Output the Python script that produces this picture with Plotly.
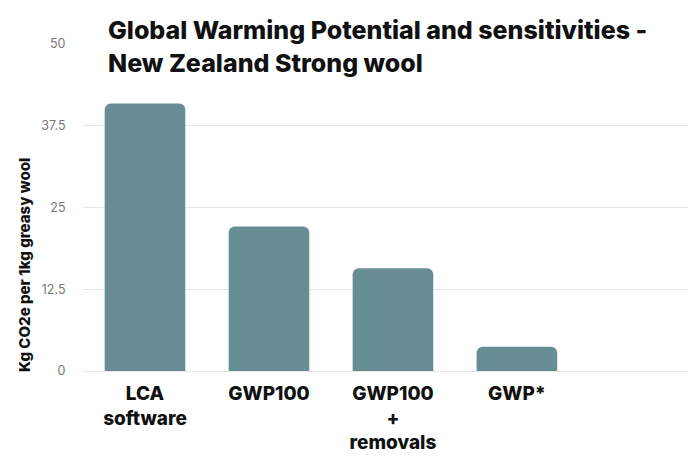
import plotly.graph_objects as go

categories = ["LCA<br>software", "GWP100", "GWP100<br>+<br>removals", "GWP*"]
values = [40.9, 22.1, 15.7, 3.7]
y_ticks = [0, 12.5, 25, 37.5, 50]
y_tick_labels = ["0", "12.5", "25", "37.5", "50"]
title_lines = ["Global Warming Potential and sensitivities -", "New Zealand Strong wool"]
y_title = "Kg CO2e per 1kg greasy wool"

fig = go.Figure()
fig.add_trace(go.Bar(
    x=categories, y=values,
    marker=dict(color="#678e94", line=dict(width=0)),
    width=0.65,
))

fig.update_layout(
    width=688, height=457,
    margin=dict(l=83, r=0, t=44, b=86, autoexpand=False),
    paper_bgcolor="white", plot_bgcolor="white",
    showlegend=False,
    barcornerradius=6,
    font=dict(family="Inter", color="#111"),
    xaxis=dict(
        range=[-0.5, 4.38],
        tickfont=dict(family="Inter", size=19, color="#111", weight=800),
        showgrid=False, ticks="", showline=False,
        ticklabelstandoff=9, automargin=False,
    ),
    yaxis=dict(
        range=[0, 50],
        tickvals=y_ticks, ticktext=y_tick_labels,
        tickfont=dict(family="Inter", size=12.5, color="#777"),
        gridcolor="#e6e6e6", gridwidth=1,
        zeroline=True, zerolinecolor="#e6e6e6", zerolinewidth=1,
        ticks="outside", ticklen=14, tickcolor="rgba(0,0,0,0)",
        showline=False, automargin=False,
    ),
)

for i, line in enumerate(title_lines):
    fig.add_annotation(
        text=line, xref="paper", yref="paper",
        x=(106 - 83) / 605, y=1 + (44 - (30 + 33 * i)) / 327,
        xanchor="left", yanchor="middle", showarrow=False,
        font=dict(family="Inter", size=25, color="#111", weight=800),
    )

fig.add_annotation(
    text=y_title, xref="paper", yref="paper",
    x=(24 - 83) / 605, y=(371 - 265) / 327,
    xanchor="center", yanchor="middle", textangle=-90, showarrow=False,
    font=dict(family="Inter", size=15, color="#111", weight=800),
)

fig.write_html("out.html")
